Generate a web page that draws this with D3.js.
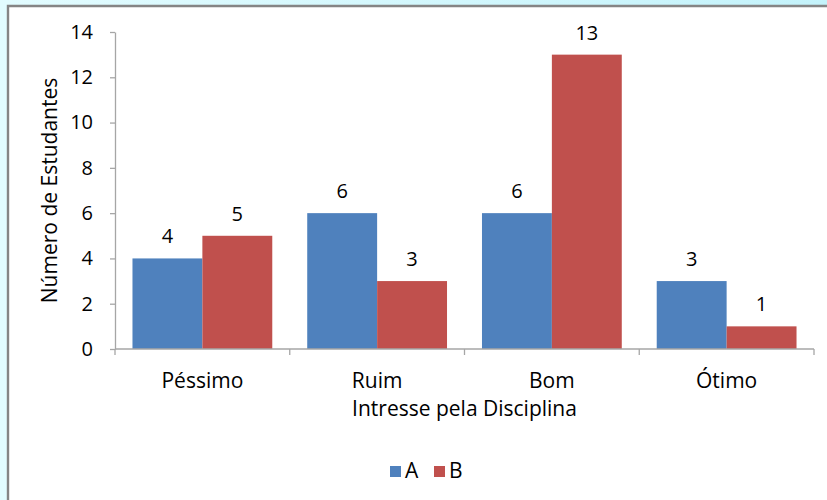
<!DOCTYPE html>
<html>
<head>
<meta charset="utf-8">
<script src="https://cdn.jsdelivr.net/npm/d3@7"></script>
<style>
  html, body { margin: 0; padding: 0; background: #fff; }
  svg { display: block; }
  text { font-family: "Open Sans", "Liberation Sans", Arial, sans-serif; fill: #000; }
</style>
</head>
<body>
<svg id="chart" width="827" height="500"></svg>
<script>
// Student interest per discipline rating, two groups
const categories = ["Péssimo", "Ruim", "Bom", "Ótimo"];
const seriesNames = ["A", "B"];
const valuesA = [4, 6, 6, 3];
const valuesB = [5, 3, 13, 1];
const yTicks = [0, 2, 4, 6, 8, 10, 12, 14];
const colors = ["#4F81BD", "#C0504D"];

const svg = d3.select("#chart");
const W = 827, H = 500;
const FONT = "'Open Sans', 'Liberation Sans', Arial, sans-serif";

// Window-style backdrop and frame
const defs = svg.append("defs");
const grad = defs.append("linearGradient").attr("id", "bg").attr("x1", 0).attr("y1", 0).attr("x2", 1).attr("y2", 0);
grad.append("stop").attr("offset", "0%").attr("stop-color", "#e2fcff");
grad.append("stop").attr("offset", "100%").attr("stop-color", "#c4f3fb");
svg.append("rect").attr("width", W).attr("height", H).attr("fill", "url(#bg)");
svg.append("rect").attr("x", 7).attr("y", 5).attr("width", W).attr("height", H)
  .attr("fill", "#ffffff");
svg.append("path").attr("d", `M8,${H} V6 H${W}`)
  .attr("fill", "none").attr("stroke", "#858585").attr("stroke-width", 2.4);

const margin = { left: 115, right: 13, top: 32, bottom: 151 };
const x0 = d3.scaleBand().domain(categories).range([margin.left, W - margin.right]).paddingInner(0.2).paddingOuter(0.1);
const xBounds = d3.scaleLinear().domain([0, categories.length]).range([margin.left, W - margin.right]);
const x1 = d3.scaleBand().domain(seriesNames).range([0, x0.bandwidth()]);
const y = d3.scaleLinear().domain([0, 14]).range([H - margin.bottom, margin.top]);

const axisColor = "#a6a6a6";

// Y axis
const yAxis = svg.append("g").attr("transform", `translate(${margin.left},0)`)
  .call(d3.axisLeft(y).tickValues(yTicks).tickSize(5).tickPadding(17).tickSizeOuter(0));
yAxis.select(".domain").attr("stroke", axisColor).attr("stroke-width", 1.3);
yAxis.selectAll(".tick line").attr("stroke", axisColor).attr("stroke-width", 1.3);
yAxis.selectAll(".tick text").attr("font-size", 20).style("font-family", FONT);

// Bars
const data = categories.map((c, i) => ({ cat: c, vals: [valuesA[i], valuesB[i]] }));
const groups = svg.append("g").selectAll("g").data(data).join("g")
  .attr("transform", d => `translate(${x0(d.cat)},0)`);
groups.selectAll("rect").data(d => d.vals.map((v, k) => ({ key: seriesNames[k], v, k })))
  .join("rect")
  .attr("x", d => x1(d.key))
  .attr("width", x1.bandwidth())
  .attr("y", d => y(d.v))
  .attr("height", d => y(0) - y(d.v))
  .attr("fill", d => colors[d.k]);

// Value labels
groups.selectAll("text").data(d => d.vals.map((v, k) => ({ key: seriesNames[k], v, k })))
  .join("text")
  .attr("x", d => x1(d.key) + x1.bandwidth() / 2)
  .attr("y", d => y(d.v) - 15)
  .attr("text-anchor", "middle")
  .attr("font-size", 20)
  .text(d => d.v);

// X axis with boundary ticks between categories
const xg = svg.append("g");
xg.append("line").attr("x1", margin.left).attr("x2", W - margin.right)
  .attr("y1", y(0)).attr("y2", y(0)).attr("stroke", axisColor).attr("stroke-width", 1.3);
xg.selectAll("line.tk").data(d3.range(categories.length + 1)).join("line")
  .attr("class", "tk")
  .attr("x1", d => xBounds(d)).attr("x2", d => xBounds(d))
  .attr("y1", y(0)).attr("y2", y(0) + 6)
  .attr("stroke", axisColor).attr("stroke-width", 1.3);
xg.selectAll("text").data(categories).join("text")
  .attr("x", d => x0(d) + x0.bandwidth() / 2)
  .attr("y", y(0) + 39)
  .attr("text-anchor", "middle")
  .attr("font-size", 21)
  .text(d => d);

// Axis titles
svg.append("text")
  .attr("x", (margin.left + W - margin.right) / 2)
  .attr("y", y(0) + 67)
  .attr("text-anchor", "middle")
  .attr("font-size", 21)
  .text("Intresse pela Disciplina");
svg.append("text")
  .attr("transform", `translate(57,${(y(0) + y(14)) / 2}) rotate(-90)`)
  .attr("text-anchor", "middle")
  .attr("font-size", 21)
  .text("Número de Estudantes");

// Legend
const legend = svg.append("g").attr("transform", "translate(390,466)");
const items = legend.selectAll("g").data(seriesNames).join("g")
  .attr("transform", (d, i) => `translate(${i * 44},0)`);
items.append("rect").attr("width", 11).attr("height", 11).attr("fill", (d, i) => colors[i]);
items.append("text").attr("x", 15).attr("y", 12).attr("font-size", 21).text(d => d);
</script>
</body>
</html>
